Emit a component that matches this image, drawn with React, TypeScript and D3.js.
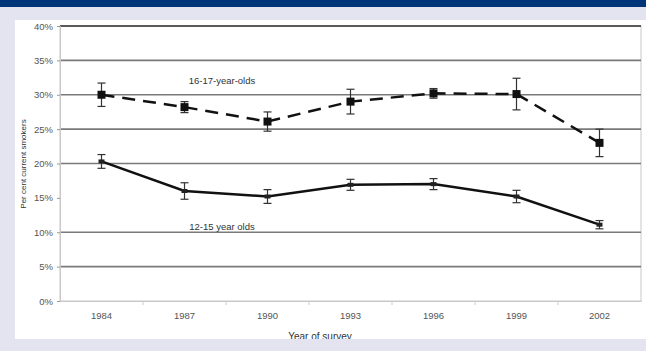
import { useEffect, useRef } from "react";
import * as d3 from "d3";

// survey years (ASSAD triennial)
const years = ["1984", "1987", "1990", "1993", "1996", "1999", "2002"];
// 16-17 year olds
const olderValues = [30, 28.2, 26.1, 29, 30.2, 30.1, 23];
const olderErrors = [1.7, 0.8, 1.4, 1.8, 0.7, 2.3, 2.0];
// 12-15 year olds
const youngerValues = [20.3, 16, 15.2, 16.9, 17, 15.2, 11.1];
const youngerErrors = [1.0, 1.2, 1.0, 0.8, 0.8, 0.9, 0.6];

const yTicks = [0, 5, 10, 15, 20, 25, 30, 35, 40];
const gridLines = [5, 10, 20, 25, 30, 35, 40];

export default function App() {
  const ref = useRef<SVGSVGElement | null>(null);

  useEffect(() => {
    const width = 646;
    const height = 351;
    const margin = { top: 26, right: 5, bottom: 50, left: 60 };
    const font = "'Liberation Sans', Arial, sans-serif";

    const svg = d3.select(ref.current).attr("width", width).attr("height", height);
    svg.selectAll("*").remove();

    // page background
    svg.append("rect").attr("width", width).attr("height", height).attr("fill", "#e3e4ef");
    svg.append("rect").attr("width", width).attr("height", 7).attr("fill", "#003478");
    svg.append("rect").attr("x", 15).attr("y", 20).attr("width", width - 15).attr("height", 319).attr("fill", "#ffffff");

    const x = d3
      .scaleBand()
      .domain(years)
      .range([margin.left, width - margin.right])
      .padding(0);

    const y = d3
      .scaleLinear()
      .domain([0, 40])
      .range([height - margin.bottom, margin.top]);

    const cx = (i: number) => x(years[i])! + x.bandwidth() / 2;

    // plot frame
    svg
      .append("rect")
      .attr("x", margin.left)
      .attr("y", y(40))
      .attr("width", width - margin.right - margin.left)
      .attr("height", y(0) - y(40))
      .attr("fill", "none")
      .attr("stroke", "#c8c8c8")
      .attr("stroke-width", 1);

    // grid
    svg
      .append("g")
      .selectAll("line")
      .data(gridLines)
      .enter()
      .append("line")
      .attr("x1", margin.left)
      .attr("x2", width - margin.right)
      .attr("y1", (d) => y(d))
      .attr("y2", (d) => y(d))
      .attr("stroke", (d) => (d === 40 ? "#5a5a5a" : "#7a7a7a"))
      .attr("stroke-width", (d) => (d === 40 ? 2 : 1.6));

    // y axis
    const yAxis = svg
      .append("g")
      .attr("transform", `translate(${margin.left}, 0)`)
      .call(
        d3
          .axisLeft(y)
          .tickValues(yTicks)
          .tickSize(3)
          .tickFormat((d) => `${d}%`)
      );
    yAxis.select(".domain").attr("stroke", "#c8c8c8");
    yAxis.selectAll(".tick line").attr("stroke", "#999");
    yAxis
      .selectAll("text")
      .attr("font-family", font)
      .attr("font-size", 9.5)
      .attr("fill", "#555")
      .attr("x", -7);

    // x axis
    const xAxis = svg
      .append("g")
      .attr("transform", `translate(0, ${y(0)})`)
      .call(d3.axisBottom(x).tickSize(0).tickPadding(11));
    xAxis.select(".domain").attr("stroke", "#c8c8c8");
    xAxis.selectAll("text").attr("font-family", font).attr("font-size", 9.5).attr("fill", "#555");
    svg
      .append("g")
      .selectAll("line")
      .data(years.slice(1))
      .enter()
      .append("line")
      .attr("x1", (d) => x(d)!)
      .attr("x2", (d) => x(d)!)
      .attr("y1", y(0))
      .attr("y2", y(0) + 4)
      .attr("stroke", "#ccc");

    // axis titles
    svg
      .append("text")
      .attr("x", 320)
      .attr("y", 340)
      .attr("text-anchor", "middle")
      .attr("font-family", font)
      .attr("font-size", 10)
      .attr("fill", "#333")
      .text("Year of survey");
    // bottom band cuts the x title, as in the original
    svg.append("rect").attr("y", 339).attr("width", width).attr("height", height - 339).attr("fill", "#e3e4ef");
    svg.append("rect").attr("x", 0).attr("y", 7).attr("width", 15).attr("height", height - 7).attr("fill", "#e3e4ef");

    svg
      .append("text")
      .attr("transform", `translate(26, 164) rotate(-90)`)
      .attr("text-anchor", "middle")
      .attr("font-family", font)
      .attr("font-size", 8)
      .attr("fill", "#333")
      .text("Per cent current smokers");

    const line = d3
      .line<number>()
      .x((_, i) => cx(i))
      .y((d) => y(d));

    const drawErrors = (vals: number[], errs: number[]) => {
      const g = svg.append("g").attr("stroke", "#333").attr("stroke-width", 1.2);
      vals.forEach((v, i) => {
        const x0 = cx(i);
        g.append("line").attr("x1", x0).attr("x2", x0).attr("y1", y(v + errs[i])).attr("y2", y(v - errs[i]));
        g.append("line").attr("x1", x0 - 4).attr("x2", x0 + 4).attr("y1", y(v + errs[i])).attr("y2", y(v + errs[i]));
        g.append("line").attr("x1", x0 - 4).attr("x2", x0 + 4).attr("y1", y(v - errs[i])).attr("y2", y(v - errs[i]));
      });
    };

    // 16-17 year olds: dashed with squares
    svg
      .append("path")
      .datum(olderValues)
      .attr("d", line)
      .attr("fill", "none")
      .attr("stroke", "#111")
      .attr("stroke-width", 2.5)
      .attr("stroke-dasharray", "13,8");
    drawErrors(olderValues, olderErrors);
    svg
      .append("g")
      .selectAll("rect")
      .data(olderValues)
      .enter()
      .append("rect")
      .attr("x", (_, i) => cx(i) - 4)
      .attr("y", (d) => y(d) - 4)
      .attr("width", 8)
      .attr("height", 8)
      .attr("fill", "#111");

    // 12-15 year olds: solid line with small markers
    svg
      .append("path")
      .datum(youngerValues)
      .attr("d", line)
      .attr("fill", "none")
      .attr("stroke", "#111")
      .attr("stroke-width", 2.5);
    drawErrors(youngerValues, youngerErrors);
    svg
      .append("g")
      .selectAll("rect")
      .data(youngerValues)
      .enter()
      .append("rect")
      .attr("x", (_, i) => cx(i) - 3)
      .attr("y", (d) => y(d) - 2)
      .attr("width", 6)
      .attr("height", 4)
      .attr("fill", "#222");

    // series labels
    svg
      .append("text")
      .attr("x", 222)
      .attr("y", 84)
      .attr("text-anchor", "middle")
      .attr("font-family", font)
      .attr("font-size", 9.5)
      .attr("fill", "#333")
      .text("16-17-year-olds");
    svg
      .append("text")
      .attr("x", 222)
      .attr("y", 230)
      .attr("text-anchor", "middle")
      .attr("font-family", font)
      .attr("font-size", 9.5)
      .attr("fill", "#333")
      .text("12-15 year olds");
  }, []);

  return <svg ref={ref} style={{ position: "absolute", left: 0, top: 0 }} />;
}
